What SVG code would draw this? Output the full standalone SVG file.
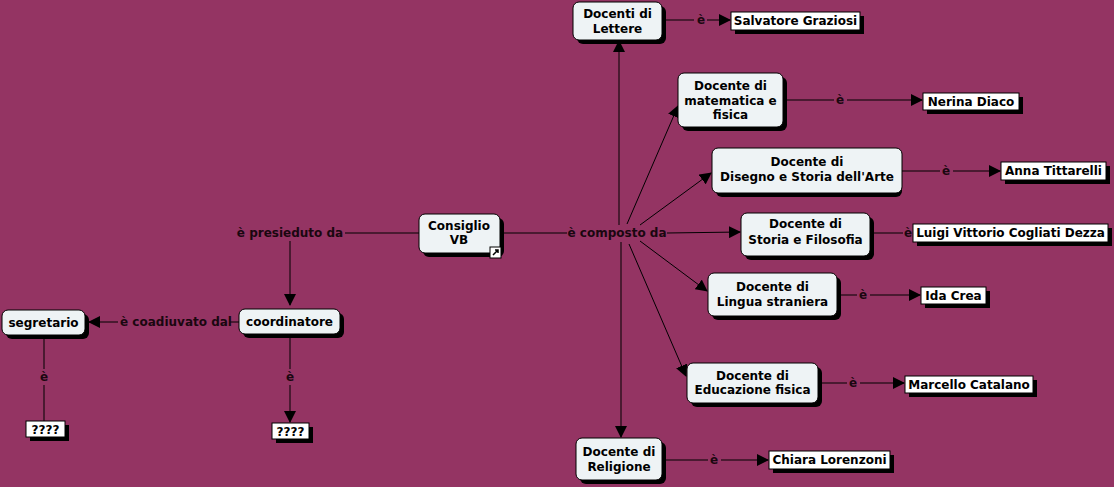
<svg xmlns="http://www.w3.org/2000/svg" width="1114" height="487" viewBox="0 0 1114 487">
<style>
text{font-family:"DejaVu Sans","Verdana",sans-serif;font-weight:bold;font-size:12px;fill:#000;text-anchor:middle}
.lbl{fill:#1a0710}
.c{fill:#eef3f5;stroke:#000;stroke-width:1}
.v{fill:#ffffff;stroke:#000;stroke-width:1}
.sh{fill:#000}
.ln{stroke:#000;stroke-width:1;fill:none}
</style>
<defs>
<marker id="ah" markerUnits="userSpaceOnUse" markerWidth="12" markerHeight="12" viewBox="0 0 12 12" refX="11" refY="6" orient="auto">
<path d="M0,0 L12,6 L0,12 Z" fill="#000"/>
</marker>
</defs>
<rect width="1114" height="487" fill="#943463"/>
<g id="connectors">
<line class="ln" x1="345" y1="233" x2="419" y2="233"/>
<line class="ln" x1="290" y1="241" x2="290" y2="305" marker-end="url(#ah)"/>
<line class="ln" x1="239" y1="322" x2="230" y2="322"/>
<line class="ln" x1="118" y1="322" x2="89" y2="322" marker-end="url(#ah)"/>
<line class="ln" x1="44" y1="336" x2="44" y2="369"/>
<line class="ln" x1="44" y1="385" x2="44" y2="421"/>
<line class="ln" x1="290" y1="334" x2="290" y2="369"/>
<line class="ln" x1="290" y1="385" x2="290" y2="422" marker-end="url(#ah)"/>
<line class="ln" x1="500" y1="233" x2="567" y2="233"/>
<line class="ln" x1="619" y1="225" x2="619" y2="41" marker-end="url(#ah)"/>
<line class="ln" x1="627" y1="224" x2="678" y2="106" marker-end="url(#ah)"/>
<line class="ln" x1="640" y1="225" x2="711" y2="173" marker-end="url(#ah)"/>
<line class="ln" x1="667" y1="233" x2="740" y2="232" marker-end="url(#ah)"/>
<line class="ln" x1="640" y1="241" x2="707" y2="291" marker-end="url(#ah)"/>
<line class="ln" x1="629" y1="244" x2="686" y2="376" marker-end="url(#ah)"/>
<line class="ln" x1="621" y1="242" x2="621" y2="437" marker-end="url(#ah)"/>
<line class="ln" x1="662" y1="20" x2="694" y2="20"/>
<line class="ln" x1="707" y1="20" x2="730" y2="20" marker-end="url(#ah)"/>
<line class="ln" x1="783" y1="100" x2="834" y2="100"/>
<line class="ln" x1="847" y1="100" x2="922" y2="100" marker-end="url(#ah)"/>
<line class="ln" x1="902" y1="171" x2="940" y2="171"/>
<line class="ln" x1="953" y1="171" x2="1000" y2="171" marker-end="url(#ah)"/>
<line class="ln" x1="870" y1="233" x2="903" y2="233"/>
<line class="ln" x1="837" y1="295" x2="857" y2="295"/>
<line class="ln" x1="870" y1="295" x2="920" y2="295" marker-end="url(#ah)"/>
<line class="ln" x1="818" y1="383" x2="847" y2="383"/>
<line class="ln" x1="860" y1="383" x2="904" y2="383" marker-end="url(#ah)"/>
<line class="ln" x1="662" y1="460" x2="708" y2="460"/>
<line class="ln" x1="721" y1="460" x2="768" y2="460" marker-end="url(#ah)"/>
<text class="lbl" x="290" y="237">è presieduto da</text>
<text class="lbl" x="176" y="326">è coadiuvato dal</text>
<text class="lbl" x="44" y="381">è</text>
<text class="lbl" x="290" y="381">è</text>
<text class="lbl" x="617" y="237">è composto da</text>
<text class="lbl" x="701" y="24">è</text>
<text class="lbl" x="840" y="104">è</text>
<text class="lbl" x="946" y="175">è</text>
<text class="lbl" x="908" y="237">è</text>
<text class="lbl" x="863" y="299">è</text>
<text class="lbl" x="853" y="387">è</text>
<text class="lbl" x="714" y="464">è</text>
</g>
<g id="consiglio">
<rect class="sh" x="423" y="218" width="81" height="39" rx="6"/>
<rect class="c" x="419" y="214" width="81" height="39" rx="6"/>
<text x="459" y="230">Consiglio</text>
<text x="459" y="244">VB</text>
<rect x="490" y="247" width="11" height="11" fill="#fff" stroke="#000"/>
<path d="M493,255 L498,250 M495,250 L498,250 L498,253" stroke="#000" stroke-width="1.5" fill="none"/>
</g>
<g id="coordinatore">
<rect class="sh" x="243" y="313" width="101" height="25" rx="6"/>
<rect class="c" x="239" y="309" width="101" height="25" rx="6"/>
<text x="289.5" y="326">coordinatore</text>
</g>
<g id="segretario">
<rect class="sh" x="6" y="314" width="83" height="25" rx="6"/>
<rect class="c" x="2" y="310" width="83" height="25" rx="6"/>
<text x="43.5" y="327">segretario</text>
</g>
<g id="q1">
<rect class="sh" x="30" y="425" width="39" height="16"/>
<rect class="v" x="26" y="421" width="39" height="16"/>
<text x="45.5" y="434">????</text>
</g>
<g id="q2">
<rect class="sh" x="276" y="427" width="37" height="16"/>
<rect class="v" x="272" y="423" width="37" height="16"/>
<text x="290.5" y="436">????</text>
</g>
<g id="lettere">
<rect class="sh" x="577" y="6" width="89" height="38" rx="6"/>
<rect class="c" x="573" y="2" width="89" height="38" rx="6"/>
<text x="617.5" y="18">Docenti di</text>
<text x="617.5" y="33">Lettere</text>
</g>
<g id="graziosi">
<rect class="sh" x="735" y="16" width="129" height="18"/>
<rect class="v" x="731" y="12" width="129" height="18"/>
<text x="795.5" y="25">Salvatore Graziosi</text>
</g>
<g id="matematica">
<rect class="sh" x="682" y="77" width="105" height="54" rx="6"/>
<rect class="c" x="678" y="73" width="105" height="54" rx="6"/>
<text x="730.5" y="90">Docente di</text>
<text x="730.5" y="105">matematica e</text>
<text x="730.5" y="119">fisica</text>
</g>
<g id="diaco">
<rect class="sh" x="927" y="97" width="96" height="17"/>
<rect class="v" x="923" y="93" width="96" height="17"/>
<text x="971" y="106">Nerina Diaco</text>
</g>
<g id="disegno">
<rect class="sh" x="716" y="152" width="186" height="45" rx="6"/>
<rect class="c" x="712" y="148" width="190" height="45" rx="6"/>
<text x="807" y="166">Docente di</text>
<text x="807" y="181">Disegno e Storia dell'Arte</text>
</g>
<g id="tittarelli">
<rect class="sh" x="1005" y="166" width="105" height="18"/>
<rect class="v" x="1001" y="162" width="105" height="18"/>
<text x="1053.5" y="175">Anna Tittarelli</text>
</g>
<g id="storia">
<rect class="sh" x="745" y="217" width="129" height="43" rx="6"/>
<rect class="c" x="741" y="213" width="129" height="43" rx="6"/>
<text x="805.5" y="228">Docente di</text>
<text x="805.5" y="244">Storia e Filosofia</text>
</g>
<g id="cogliati">
<rect class="sh" x="917" y="228" width="195" height="18"/>
<rect class="v" x="913" y="224" width="195" height="18"/>
<text x="1010.5" y="237">Luigi Vittorio Cogliati Dezza</text>
</g>
<g id="lingua">
<rect class="sh" x="712" y="277" width="129" height="43" rx="6"/>
<rect class="c" x="708" y="273" width="129" height="43" rx="6"/>
<text x="772.5" y="291">Docente di</text>
<text x="772.5" y="306">Lingua straniera</text>
</g>
<g id="crea">
<rect class="sh" x="925" y="291" width="65" height="17"/>
<rect class="v" x="921" y="287" width="65" height="17"/>
<text x="953.5" y="300">Ida Crea</text>
</g>
<g id="educazione">
<rect class="sh" x="691" y="367" width="131" height="40" rx="6"/>
<rect class="c" x="687" y="363" width="131" height="40" rx="6"/>
<text x="752.5" y="380">Docente di</text>
<text x="752.5" y="394">Educazione fisica</text>
</g>
<g id="catalano">
<rect class="sh" x="909" y="380" width="128" height="17"/>
<rect class="v" x="905" y="376" width="128" height="17"/>
<text x="969" y="389">Marcello Catalano</text>
</g>
<g id="religione">
<rect class="sh" x="580" y="442" width="86" height="42" rx="6"/>
<rect class="c" x="576" y="438" width="86" height="42" rx="6"/>
<text x="619" y="456">Docente di</text>
<text x="619" y="471">Religione</text>
</g>
<g id="lorenzoni">
<rect class="sh" x="773" y="455" width="121" height="18"/>
<rect class="v" x="769" y="451" width="121" height="18"/>
<text x="829.5" y="464">Chiara Lorenzoni</text>
</g>
</svg>
